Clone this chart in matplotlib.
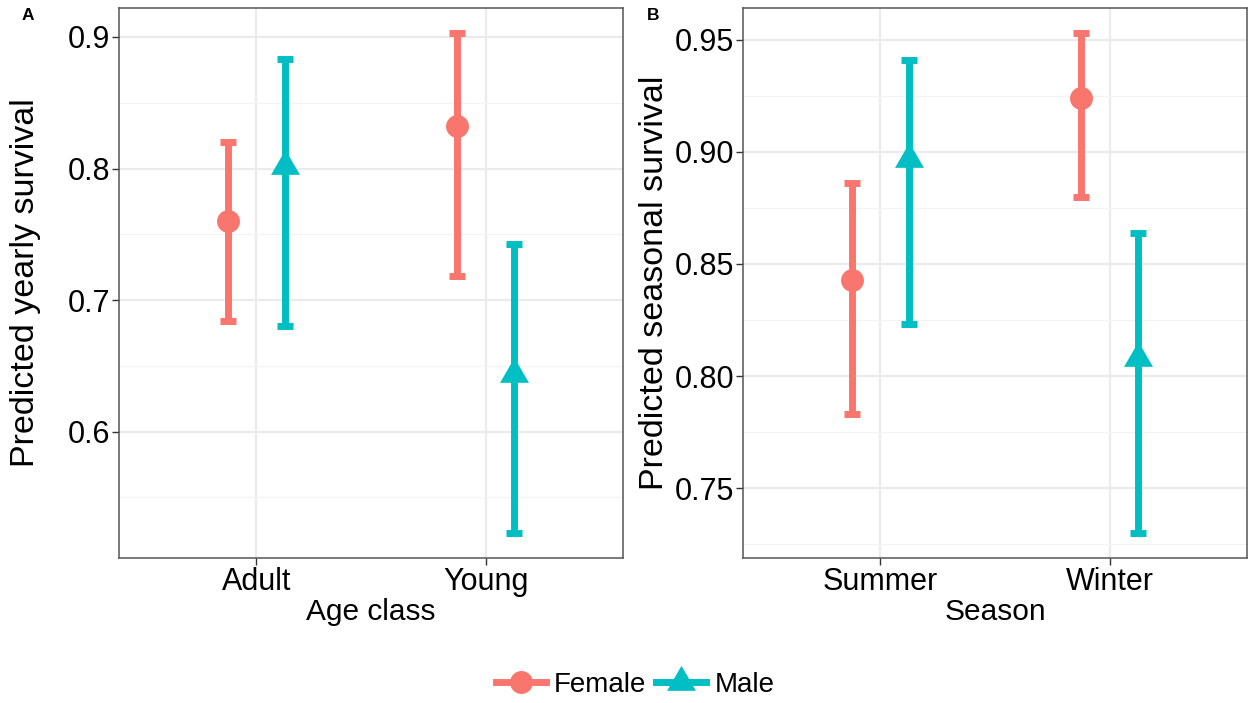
import matplotlib.pyplot as plt
import numpy as np
from matplotlib.lines import Line2D
from matplotlib.path import Path

plt.rcParams['font.family'] = ['Liberation Sans', 'DejaVu Sans']

# panel A: yearly survival by age class
age = ["Adult", "Young"]
yr_f = [0.760, 0.832]
yr_f_lo = [0.684, 0.718]
yr_f_hi = [0.820, 0.903]
yr_m = [0.802, 0.644]
yr_m_lo = [0.680, 0.523]
yr_m_hi = [0.883, 0.743]

# panel B: seasonal survival by season
season = ["Summer", "Winter"]
se_f = [0.843, 0.924]
se_f_lo = [0.783, 0.880]
se_f_hi = [0.886, 0.953]
se_m = [0.897, 0.808]
se_m_lo = [0.823, 0.730]
se_m_hi = [0.941, 0.864]

sexes = ["Female", "Male"]
cols = ["#F8766D", "#00BFC4"]

# triangle centred on its centroid (like R's pch 17)
tri = Path([(0, 1.555), (-1.347, -0.778), (1.347, -0.778), (0, 1.555)],
           [Path.MOVETO, Path.LINETO, Path.LINETO, Path.CLOSEPOLY])
marks = ["o", tri]
msizes = [16.5, 24]

fig = plt.figure(figsize=(12.54, 7.03), dpi=100)
ax1 = fig.add_axes([119/1254, 145/703, 504/1254, 550/703])
ax2 = fig.add_axes([743/1254, 145/703, 504/1254, 550/703])


def panel(ax, cats, series, ticks, minor, xlab, ylab, ylab_x):
    x = np.arange(1, len(cats) + 1)
    lows = []
    highs = []
    for k, (mid, lo, hi) in enumerate(series):
        mid, lo, hi = np.array(mid), np.array(lo), np.array(hi)
        xs = x + (k - 0.5) * 0.25
        ax.errorbar(xs, mid, yerr=[mid - lo, hi - mid], fmt='none',
                    ecolor=cols[k], elinewidth=5, capsize=6, capthick=5,
                    zorder=3)
        ax.plot(xs, mid, linestyle='none', marker=marks[k],
                markersize=msizes[k], color=cols[k], markeredgewidth=0,
                zorder=4)
        lows.append(lo.min())
        highs.append(hi.max())
    lo, hi = min(lows), max(highs)
    pad = (hi - lo) * 0.05
    ax.set_ylim(lo - pad, hi + pad)
    ax.set_xlim(0.4, len(cats) + 0.6)
    ax.set_xticks(x)
    ax.set_xticklabels(cats)
    ax.set_yticks(ticks)
    ax.set_yticks(minor, minor=True)
    ax.tick_params(axis='y', which='minor', length=0)
    ax.grid(True, which='major', color='#EBEBEB', lw=1.6, zorder=0)
    ax.grid(True, which='minor', axis='y', color='#F3F3F3', lw=0.9, zorder=0)
    ax.set_axisbelow(True)
    ax.tick_params(which='major', length=5, width=1, color='#333333',
                   labelsize=22, pad=1.5)
    for s in ax.spines.values():
        s.set_color('#555555')
        s.set_linewidth(1.1)
    ax.set_xlabel(xlab, fontsize=21.5, labelpad=1)
    ax.set_ylabel(ylab, fontsize=24.5)
    ax.yaxis.set_label_coords(ylab_x, 0.5)


panel(ax1, age,
      [(yr_f, yr_f_lo, yr_f_hi), (yr_m, yr_m_lo, yr_m_hi)],
      [0.6, 0.7, 0.8, 0.9], [0.55, 0.65, 0.75, 0.85],
      "Age class", "Predicted yearly survival", -78/504)
ax1.set_yticklabels(["0.6", "0.7", "0.8", "0.9"])

panel(ax2, season,
      [(se_f, se_f_lo, se_f_hi), (se_m, se_m_lo, se_m_hi)],
      [0.75, 0.80, 0.85, 0.90, 0.95], [0.725, 0.775, 0.825, 0.875, 0.925],
      "Season", "Predicted seasonal survival", -73/504)
ax2.set_yticklabels(["0.75", "0.80", "0.85", "0.90", "0.95"])

fig.text(28/1254, 1 - 16/703, "A", fontsize=12.5, fontweight='bold',
         ha='center', va='center')
fig.text(653/1254, 1 - 16/703, "B", fontsize=12.5, fontweight='bold',
         ha='center', va='center')

handles = [Line2D([], [], color=cols[k], lw=5, marker=marks[k],
                  markersize=msizes[k], markeredgewidth=0)
           for k in range(2)]
fig.legend(handles, sexes, loc='center', bbox_to_anchor=(635/1254, 1 - 685/703),
           ncol=2, frameon=False, fontsize=20, handlelength=1.8,
           handletextpad=0.3, columnspacing=0.35, borderpad=0)

fig.savefig("out.png", dpi=100)
